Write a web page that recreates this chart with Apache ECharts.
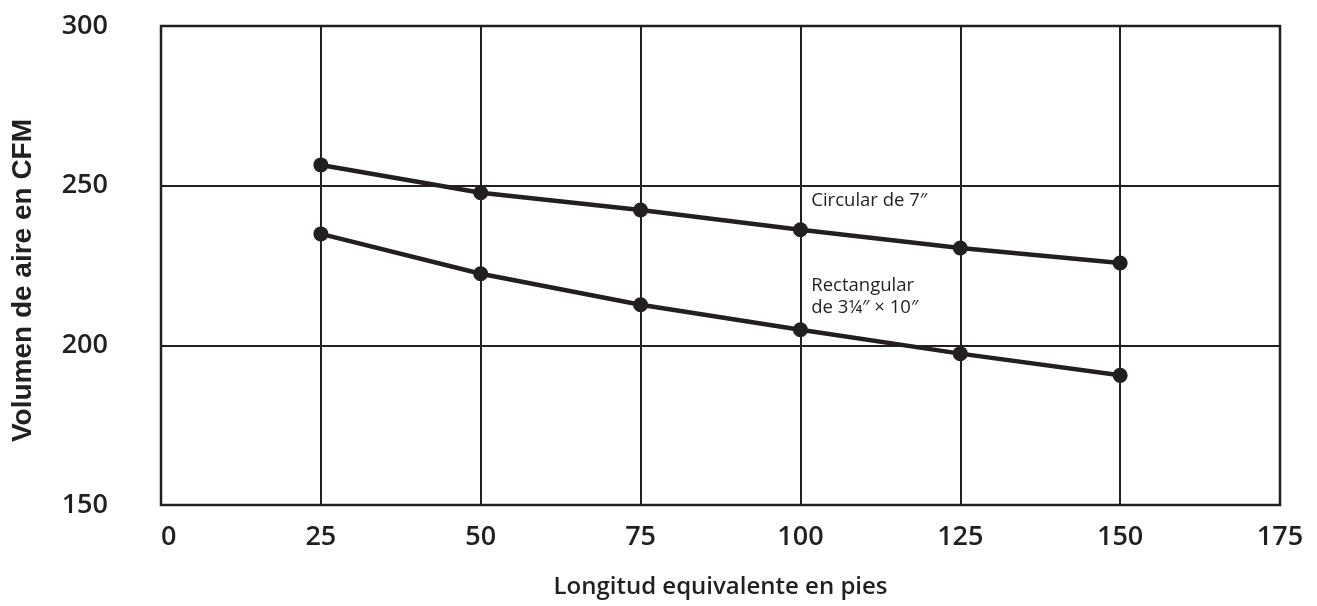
<!DOCTYPE html>
<html>
<head>
<meta charset="utf-8">
<script src="https://cdn.jsdelivr.net/npm/echarts@6/dist/echarts.min.js"></script>
<style>
  html, body { margin: 0; padding: 0; background: #fff; }
  #chart { width: 1317px; height: 606px; }
</style>
</head>
<body>
<div id="chart"></div>
<script>
// Equivalent duct length (ft) at which airflow was measured
const lengths = [25, 50, 75, 100, 125, 150];
// Airflow in CFM for each duct type
const circular7 = [256.5, 247.8, 242.4, 236.2, 230.5, 225.8];
const rect3x10 = [234.9, 222.4, 212.7, 204.9, 197.4, 190.6];
// Axis ranges / ticks
const xTicks = [0, 25, 50, 75, 100, 125, 150, 175];
const yTicks = [150, 200, 250, 300];
// Curve captions and their anchor points in data units
const captions = [
  { text: 'Circular de 7\u2033', at: [101.7, 245.3] },
  { text: 'Rectangular', at: [101.7, 218.7] },
  { text: 'de 3\u00BC\u2033 \u00D7 10\u2033', at: [101.7, 211.8] }
];

const ink = '#231f20';
const font = '"Open Sans", sans-serif';

const chart = echarts.init(document.getElementById('chart'), null, { renderer: 'canvas' });

function pairs(xs, ys) { return xs.map((x, i) => [x, ys[i]]); }

const lineStyle = { color: ink, width: 4.5 };
const itemStyle = { color: ink };

chart.setOption({
  animation: false,
  backgroundColor: '#fff',
  grid: {
    left: 161, right: 37, top: 26, bottom: 101,
    show: true, borderColor: ink, borderWidth: 2.5, backgroundColor: 'transparent'
  },
  xAxis: {
    type: 'value',
    min: xTicks[0], max: xTicks[xTicks.length - 1], interval: xTicks[1] - xTicks[0],
    name: 'Longitud equivalente en pies',
    nameLocation: 'middle', nameGap: 70,
    nameTextStyle: { fontFamily: font, fontWeight: 600, fontSize: 24, color: ink },
    axisLine: { show: false },
    axisTick: { show: false },
    splitLine: { show: true, lineStyle: { color: ink, width: 2 } },
    axisLabel: {
      margin: 19, fontFamily: font, fontWeight: 600, fontSize: 27, color: ink,
      alignMinLabel: 'left'
    }
  },
  yAxis: {
    type: 'value',
    min: yTicks[0], max: yTicks[yTicks.length - 1], interval: yTicks[1] - yTicks[0],
    name: 'Volumen de aire en CFM',
    nameLocation: 'middle', nameGap: 124,
    nameTextStyle: {
      fontFamily: '"Liberation Sans", Arial, sans-serif', fontWeight: 'bold', fontSize: 28, color: ink,
      padding: [0, 30, 0, 0]
    },
    axisLine: { show: false },
    axisTick: { show: false },
    splitLine: { show: true, lineStyle: { color: ink, width: 2 } },
    axisLabel: { margin: 53, fontFamily: font, fontWeight: 600, fontSize: 27, color: ink }
  },
  series: [
    {
      name: 'Circular de 7\u2033', type: 'line', data: pairs(lengths, circular7),
      symbol: 'circle', symbolSize: 15, lineStyle, itemStyle, z: 5
    },
    {
      name: 'Rectangular de 3\u00BC\u2033 \u00D7 10\u2033', type: 'line', data: pairs(lengths, rect3x10),
      symbol: 'circle', symbolSize: 15, lineStyle, itemStyle, z: 5
    }
  ]
});

// Place the curve captions at their data-space anchors
chart.setOption({
  graphic: captions.map(c => {
    const p = chart.convertToPixel({ gridIndex: 0 }, c.at);
    return {
      type: 'text', x: p[0], y: p[1], z: 10,
      style: {
        text: c.text, fill: ink, font: '18.5px ' + font,
        textAlign: 'left', textVerticalAlign: 'middle'
      }
    };
  })
});
</script>
</body>
</html>
